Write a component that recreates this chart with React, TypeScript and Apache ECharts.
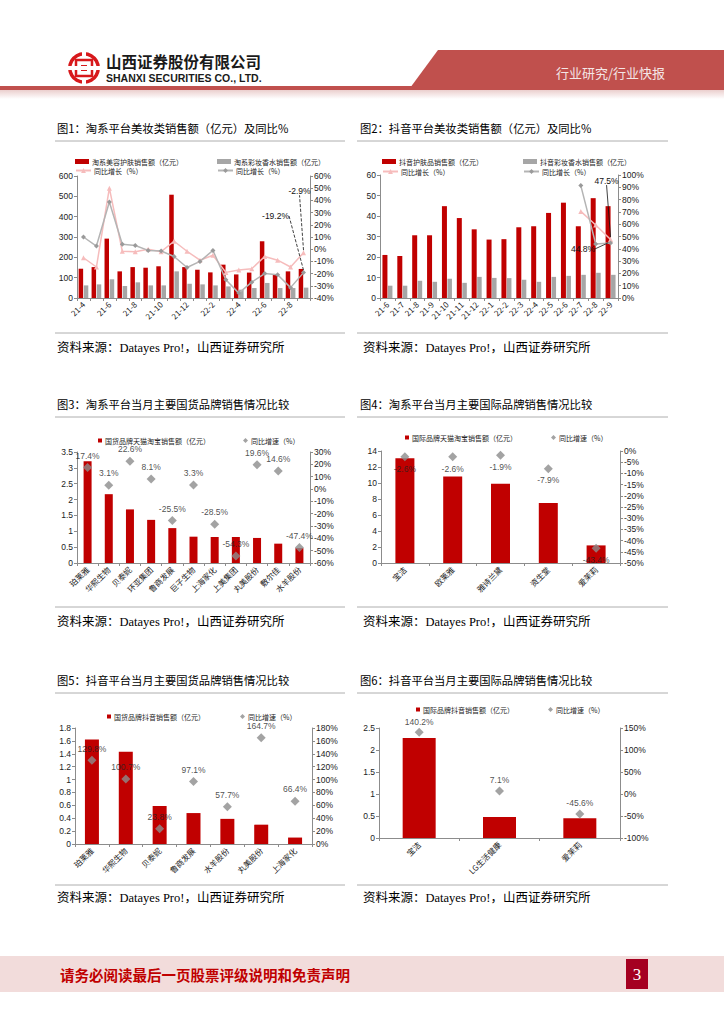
import React, { useEffect, useRef } from 'react';
import * as echarts from 'echarts';

// ---------- DATA ----------
const months1 = ['21-4','21-5','21-6','21-7','21-8','21-9','21-10','21-11','21-12','22-1','22-2','22-3','22-4','22-5','22-6','22-7','22-8','22-9'];
const tbSkin = [144,152,292,131,152,149,156,508,152,139,126,164,116,125,279,116,131,143];
const tbMakeup = [62,67,92,59,77,62,62,131,70,67,62,57,41,49,74,49,49,51];
const tbSkinYoy = [-7,-14.6,50,-1.7,-2,0,-2,6.5,-1.7,-9,-5,-19,-17,-16,-6,-9,-14.6,-2.9];
const tbMakeupYoy = [10,2.6,38.7,4,3,-1,-1.5,-6,-15,-10,-1,-25,-36,-27,-20,-21,-31.5,-19.2];

const months2 = ['21-6','21-7','21-8','21-9','21-10','21-11','21-12','22-1','22-2','22-3','22-4','22-5','22-6','22-7','22-8','22-9'];
const dySkin = [21,20.5,30.6,30.6,44.8,39,33.5,28.5,28.7,34.5,35,41.5,46.5,35,48.7,44.8];
const dyMakeup = [6,6,8.4,7.9,9.4,7.4,10.3,9.8,9.7,8.9,7.9,10.3,10.8,11.3,12.3,11.3];
const dySkinYoy = [null,null,null,null,null,null,null,null,null,null,null,null,null,70.4,59.4,47.5];
const dyMakeupYoy = [null,null,null,null,null,null,null,null,null,null,null,null,null,91.4,44,44.8];

const brands3 = ['珀莱雅','华熙生物','贝泰妮','环亚集团','鲁商发展','巨子生物','上海家化','上美集团','丸美股份','敷尔佳','水羊股份'];
const sales3 = [3.21,2.17,1.69,1.36,1.1,0.83,0.82,0.82,0.79,0.61,0.47];
const yoy3 = [17.4,3.1,22.6,8.1,-25.5,3.3,-28.5,-54.3,19.6,14.6,-47.4];

const brands4 = ['宝洁','欧莱雅','雅诗兰黛','资生堂','爱茉莉'];
const sales4 = [13.1,10.8,9.9,7.5,2.2];
const yoy4 = [-2.6,-2.6,-1.9,-7.9,-43.4];

const brands5 = ['珀莱雅','华熙生物','贝泰妮','鲁商发展','水羊股份','丸美股份','上海家化'];
const sales5 = [1.62,1.43,0.59,0.48,0.39,0.3,0.1];
const yoy5 = [129.8,100.7,23.8,97.1,57.7,164.7,66.4];

const brands6 = ['宝洁','LG生活健康','爱茉莉'];
const sales6 = [2.27,0.48,0.45];
const yoy6 = [140.2,7.1,-45.6];

// ---------- STYLE ----------
const FONT = "'Liberation Sans', 'Noto Sans CJK SC', sans-serif";
const CJK = "'Noto Sans CJK SC', sans-serif";
const SERIF = "'Liberation Serif', 'Noto Sans CJK SC', serif";
const RED = '#C00000';
const GRAY = '#A6A6A6';
const PINK = '#F6BCBC';
const LGRAY = '#B4B4B4';
const DIA = '#8C8C8C';
const AX = '#8c8c8c';

const strip = (n: string) => n.split('|')[0];

function xAx(gridIndex: number, data: string[], interval = 0) {
  return {
    type: 'category', gridIndex, data, boundaryGap: true,
    axisLine: { lineStyle: { color: AX, width: 1 } },
    axisTick: { show: true, interval: 0, length: 3, lineStyle: { color: AX } },
    axisLabel: { rotate: 45, interval, fontSize: 8, color: '#222', margin: 5, fontFamily: CJK },
  };
}

function yAx(gridIndex: number, min: number, max: number, interval: number, position: string, pct: boolean, dec = 0) {
  return {
    type: 'value', gridIndex, min, max, interval, position,
    axisLine: { show: true, lineStyle: { color: AX, width: 1 } },
    axisTick: { show: true, length: 3, lineStyle: { color: AX } },
    splitLine: { show: false },
    axisLabel: {
      fontSize: 8.5, color: '#222', margin: 4, fontFamily: FONT,
      formatter: (v: number) => (dec ? String(+v.toFixed(dec)) : String(Math.round(v))) + (pct ? '%' : ''),
    },
  };
}

function lg(name: string, left: number, top: number, kind: 'bar' | 'line' | 'sq' | 'dia') {
  const base: any = {
    data: [name], left, top, padding: 0, itemGap: 0, selectedMode: false,
    formatter: strip,
    textStyle: { fontSize: 7, color: '#222', fontFamily: CJK, padding: [0, 0, 0, -2] },
  };
  if (kind === 'bar') { base.itemWidth = 14; base.itemHeight = 5; base.icon = 'rect'; }
  if (kind === 'line') { base.itemWidth = 15; base.itemHeight = 6; }
  if (kind === 'sq') { base.itemWidth = 4; base.itemHeight = 4; base.icon = 'rect'; }
  if (kind === 'dia') { base.itemWidth = 5; base.itemHeight = 5; base.icon = 'diamond'; }
  return base;
}

const dLabel = (pos: string, dist = 4) => ({
  show: true, position: pos, distance: dist, fontSize: 8.5, color: '#222', fontFamily: FONT,
  formatter: (p: any) => p.value.toFixed(1) + '%',
});

function scatter(name: string, x: number, y: number, data: number[], pos: string, dist = 3) {
  return {
    name, type: 'scatter', xAxisIndex: x, yAxisIndex: y, data,
    symbol: 'diamond', symbolSize: 9, itemStyle: { color: DIA },
    label: dLabel(pos, dist), z: 5,
  };
}

function bar(name: string, x: number, y: number, data: number[], color: string, width: number, gap?: string) {
  const s: any = { name, type: 'bar', xAxisIndex: x, yAxisIndex: y, data, barWidth: width, itemStyle: { color } };
  if (gap) s.barGap = gap;
  return s;
}

function withLastLabel(data: (number | null)[], pos = 'top') {
  return data.map((v, i) => i === data.length - 1
    ? { value: v, label: { show: true, position: pos, fontSize: 8.5, color: '#111', fontFamily: FONT, formatter: (v as number).toFixed(1) + '%' } }
    : v);
}

function buildOption() {
  const grids = [
    { left: 77, top: 176, width: 233, height: 122 },
    { left: 380, top: 175, width: 238, height: 123 },
    { left: 77, top: 452, width: 233, height: 111 },
    { left: 381, top: 451, width: 239, height: 112 },
    { left: 75, top: 728, width: 237, height: 116 },
    { left: 379, top: 728, width: 241, height: 110 },
  ];

  const xAxis = [
    xAx(0, months1, 1), xAx(1, months2), xAx(2, brands3), xAx(3, brands4), xAx(4, brands5), xAx(5, brands6),
  ];
  const yAxis = [
    yAx(0, 0, 600, 100, 'left', false), yAx(0, -40, 60, 10, 'right', true),
    yAx(1, 0, 60, 10, 'left', false), yAx(1, 0, 100, 10, 'right', true),
    yAx(2, 0, 3.5, 0.5, 'left', false, 1), yAx(2, -60, 30, 10, 'right', true),
    yAx(3, 0, 14, 2, 'left', false), yAx(3, -50, 0, 5, 'right', true),
    yAx(4, 0, 1.8, 0.2, 'left', false, 1), yAx(4, 0, 180, 20, 'right', true),
    yAx(5, 0, 2.5, 0.5, 'left', false, 1), yAx(5, -100, 150, 50, 'right', true),
  ];

  const leader = { show: true, lineStyle: { color: '#111', width: 0.8, type: 'dashed' } };

  const series: any[] = [
    bar('淘系美容护肤销售额（亿元）', 0, 0, tbSkin, RED, 4.5, '15%'),
    bar('淘系彩妆香水销售额（亿元）', 0, 0, tbMakeup, GRAY, 4.5),
    {
      name: '同比增长（%）|1a', type: 'line', xAxisIndex: 0, yAxisIndex: 1, data: withLastLabel(tbSkinYoy),
      symbol: 'triangle', symbolSize: 5, lineStyle: { color: PINK, width: 1.5 }, itemStyle: { color: PINK },
      labelLayout: { dx: -4, dy: -50 }, labelLine: leader, z: 4,
    },
    {
      name: '同比增长（%）|1b', type: 'line', xAxisIndex: 0, yAxisIndex: 1, data: withLastLabel(tbMakeupYoy),
      symbol: 'diamond', symbolSize: 5, lineStyle: { color: LGRAY, width: 1.5 }, itemStyle: { color: '#9a9a9a' },
      labelLayout: { dx: -28, dy: -45 }, labelLine: leader, z: 4,
    },
    bar('抖音护肤品销售额（亿元）', 1, 2, dySkin, RED, 5, '10%'),
    bar('抖音彩妆香水销售额（亿元）', 1, 2, dyMakeup, GRAY, 4.5),
    {
      name: '同比增长（%）|2a', type: 'line', xAxisIndex: 1, yAxisIndex: 3, data: withLastLabel(dySkinYoy),
      symbol: 'triangle', symbolSize: 5, lineStyle: { color: PINK, width: 1.5 }, itemStyle: { color: PINK },
      labelLayout: { dx: -4, dy: -47 }, labelLine: { show: true, lineStyle: { color: '#111', width: 0.8 } }, z: 4,
    },
    {
      name: '同比增长（%）|2b', type: 'line', xAxisIndex: 1, yAxisIndex: 3, data: withLastLabel(dyMakeupYoy, 'left'),
      symbol: 'diamond', symbolSize: 5, lineStyle: { color: LGRAY, width: 1.5 }, itemStyle: { color: '#9a9a9a' },
      labelLayout: { dx: -8, dy: 6 }, labelLine: { show: true, lineStyle: { color: '#111', width: 0.8 } }, z: 4,
    },
    bar('国货品牌天猫淘宝销售额（亿元）', 2, 4, sales3, RED, 8),
    scatter('同比增速（%）|3', 2, 5, yoy3, 'top'),
    bar('国际品牌天猫淘宝销售额（亿元）', 3, 6, sales4, RED, 19),
    scatter('同比增速（%）|4', 3, 7, yoy4, 'bottom'),
    bar('国货品牌抖音销售额（亿元）', 4, 8, sales5, RED, 14),
    scatter('同比增速（%）|5', 4, 9, yoy5, 'top'),
    bar('国际品牌抖音销售额（亿元）', 5, 10, sales6, RED, 33),
    scatter('同比增速（%）|6', 5, 11, yoy6, 'top', 2),
  ];

  const legend = [
    lg('淘系美容护肤销售额（亿元）', 75, 158, 'bar'),
    lg('淘系彩妆香水销售额（亿元）', 217, 158, 'bar'),
    lg('同比增长（%）|1a', 75, 167, 'line'),
    lg('同比增长（%）|1b', 217, 167, 'line'),
    lg('抖音护肤品销售额（亿元）', 382, 158, 'bar'),
    lg('抖音彩妆香水销售额（亿元）', 523, 158, 'bar'),
    lg('同比增长（%）|2a', 382, 168, 'line'),
    lg('同比增长（%）|2b', 523, 168, 'line'),
    lg('国货品牌天猫淘宝销售额（亿元）', 98, 437, 'sq'),
    lg('同比增速（%）|3', 243, 437, 'dia'),
    lg('国际品牌天猫淘宝销售额（亿元）', 405, 434, 'sq'),
    lg('同比增速（%）|4', 551, 434, 'dia'),
    lg('国货品牌抖音销售额（亿元）', 107, 713, 'sq'),
    lg('同比增速（%）|5', 240, 713, 'dia'),
    lg('国际品牌抖音销售额（亿元）', 416, 706, 'sq'),
    lg('同比增速（%）|6', 548, 706, 'dia'),
  ];

  const titles = [
    ['图1：淘系平台美妆类销售额（亿元）及同比%', 57, 128],
    ['图2：抖音平台美妆类销售额（亿元）及同比%', 360, 128],
    ['图3：淘系平台当月主要国货品牌销售情况比较', 57, 404],
    ['图4：淘系平台当月主要国际品牌销售情况比较', 360, 404],
    ['图5：抖音平台当月主要国货品牌销售情况比较', 57, 680],
    ['图6：抖音平台当月主要国际品牌销售情况比较', 360, 680],
  ];
  const sources = [[57, 348], [363, 348], [57, 622], [363, 622], [57, 898], [363, 898]];
  const hLines = [
    [55, 345, 141], [357, 668, 141], [55, 345, 333], [357, 668, 333],
    [55, 345, 417], [357, 668, 417], [55, 345, 607], [357, 668, 607],
    [55, 345, 693], [357, 668, 693], [55, 345, 885], [357, 668, 885],
  ];

  const graphic: any[] = [
    // header banner
    { type: 'polygon', shape: { points: [[438, 50], [724, 50], [724, 88], [410, 88]] }, style: { fill: '#C0504D' } },
    { type: 'rect', shape: { x: 0, y: 86, width: 724, height: 4 }, style: { fill: '#C0504D' } },
    {
      type: 'rect', shape: { x: 0, y: 90, width: 724, height: 9 },
      style: { fill: new echarts.graphic.LinearGradient(0, 0, 0, 1, [{ offset: 0, color: '#EBCFCE' }, { offset: 1, color: '#FFFFFF' }]) },
    },
    { type: 'text', x: 556, y: 72, style: { text: '行业研究/行业快报', fill: '#F4E6E6', font: `13px ${CJK}`, textVerticalAlign: 'middle', verticalAlign: 'middle' } },
    // logo
    { type: 'ring', shape: { cx: 84, cy: 68, r: 16, r0: 12.5 }, style: { fill: '#D7191C' } },
    { type: 'rect', shape: { x: 76, y: 60, width: 16, height: 16 }, style: { fill: 'none', stroke: '#D7191C', lineWidth: 2.5 } },
    { type: 'rect', shape: { x: 81, y: 65, width: 6, height: 6 }, style: { fill: '#D7191C' } },
    { type: 'rect', shape: { x: 66, y: 66, width: 36, height: 4 }, style: { fill: '#FFFFFF' } },
    { type: 'rect', shape: { x: 82, y: 50, width: 4, height: 8 }, style: { fill: '#FFFFFF' } },
    { type: 'rect', shape: { x: 82, y: 78, width: 4, height: 8 }, style: { fill: '#FFFFFF' } },
    { type: 'text', x: 106, y: 61, style: { text: '山西证券股份有限公司', fill: '#1a1a1a', font: `bold 15.5px ${CJK}`, textVerticalAlign: 'middle', verticalAlign: 'middle' } },
    { type: 'text', x: 106, y: 78, style: { text: 'SHANXI SECURITIES CO., LTD.', fill: '#1a1a1a', font: `bold 10.5px ${FONT}`, textVerticalAlign: 'middle', verticalAlign: 'middle' } },
    // footer
    { type: 'rect', shape: { x: 0, y: 956, width: 724, height: 36 }, style: { fill: '#F2DCDB' } },
    { type: 'text', x: 60, y: 974, style: { text: '请务必阅读最后一页股票评级说明和免责声明', fill: '#C00000', font: `bold 14.5px ${CJK}`, textVerticalAlign: 'middle', verticalAlign: 'middle' } },
    { type: 'rect', shape: { x: 626, y: 959, width: 22, height: 30 }, style: { fill: '#A50021' } },
    { type: 'text', x: 637, y: 974, style: { text: '3', fill: '#FFFFFF', font: `17px ${SERIF}`, textAlign: 'center', textVerticalAlign: 'middle', verticalAlign: 'middle', align: 'center' } },
  ];
  titles.forEach(([t, x, y]) => graphic.push({
    type: 'text', x, y, style: { text: t, fill: '#000', font: `11.3px ${CJK}`, textVerticalAlign: 'middle', verticalAlign: 'middle' },
  }));
  sources.forEach(([x, y]) => graphic.push({
    type: 'text', x, y, style: { text: '资料来源：Datayes Pro!，山西证券研究所', fill: '#000', font: `12.5px ${SERIF}`, textVerticalAlign: 'middle', verticalAlign: 'middle' },
  }));
  hLines.forEach(([x1, x2, y]) => graphic.push({
    type: 'line', shape: { x1, y1: y, x2, y2: y }, style: { stroke: '#9a9a9a', lineWidth: 0.8 },
  }));

  return { animation: false, backgroundColor: '#fff', grid: grids, xAxis, yAxis, series, legend, graphic };
}

export default function App() {
  const ref = useRef<HTMLDivElement>(null);
  useEffect(() => {
    if (!ref.current) return;
    const chart = echarts.init(ref.current, undefined, { renderer: 'svg' });
    chart.setOption(buildOption() as any);
    return () => chart.dispose();
  }, []);
  return <div ref={ref} style={{ position: 'absolute', left: 0, top: 0, width: 724, height: 1024 }} />;
}
